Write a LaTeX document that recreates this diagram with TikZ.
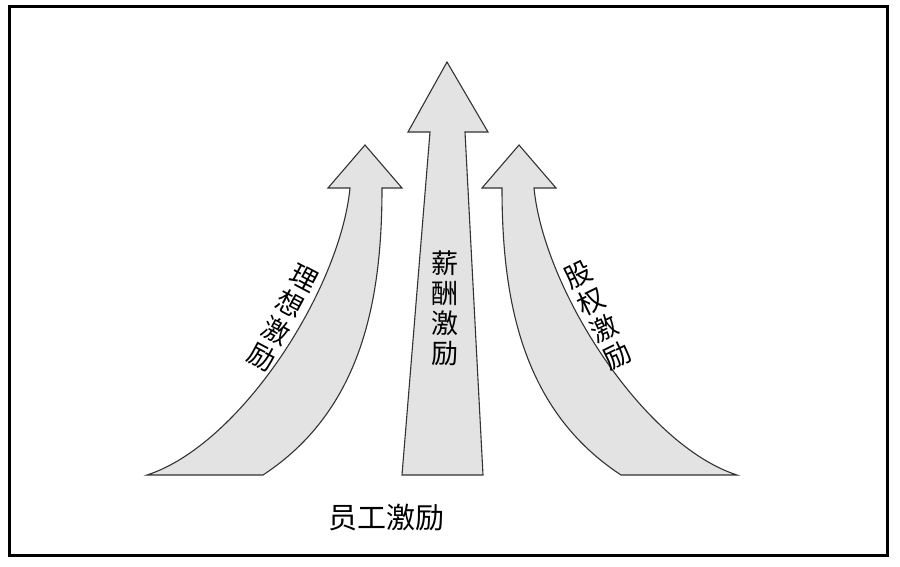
\documentclass[tikz,border=0pt]{standalone}
\usepackage{fontspec}
\newfontfamily\cjk{Noto Sans CJK SC}

\def\FlechaFill{gray!22}
\def\FlechaDraw{black!80}

% flecha curva de la izquierda (la derecha es su reflejo)
\newcommand{\FlechaCurva}{%
  \draw[flecha] (147,475) .. controls (240,445) and (340,290) .. (350,188)
    -- (328,188) -- (365,145) -- (402,188) -- (382,188)
    .. controls (382,300) and (362,410) .. (263,475) -- cycle;}

\begin{document}
\begin{tikzpicture}[x=1pt,y=-1pt,
  flecha/.style={fill=\FlechaFill, draw=\FlechaDraw, line width=1.1pt, line join=miter},
  etiqueta/.style={font=\cjk\fontsize{27}{30}\selectfont, align=center, inner sep=0pt}]
  \useasboundingbox (0,0) rectangle (900,566);
  % --- Marco ---
  \draw[line width=3pt] (9,6) rectangle (887,555);
  % --- Flechas ---
  \FlechaCurva
  \begin{scope}[xshift=884pt, xscale=-1]
    \FlechaCurva
  \end{scope}
  \draw[flecha] (402,475) -- (430,132) -- (408,132) -- (447,62)
    -- (488,132) -- (465,132) -- (483,475) -- cycle;
  % --- Textos ---
  \node[etiqueta] (salario) at (445,308) {薪\\酬\\激\\励};
  \node[etiqueta, rotate=-28] (ideal) at (283,318) {理\\想\\激\\励};
  \node[etiqueta, rotate=26] (acciones) at (598,315) {股\\权\\激\\励};
  \node[font=\cjk\fontsize{29}{32}\selectfont] (empleado) at (386,518) {员工激励};
\end{tikzpicture}
\end{document}
